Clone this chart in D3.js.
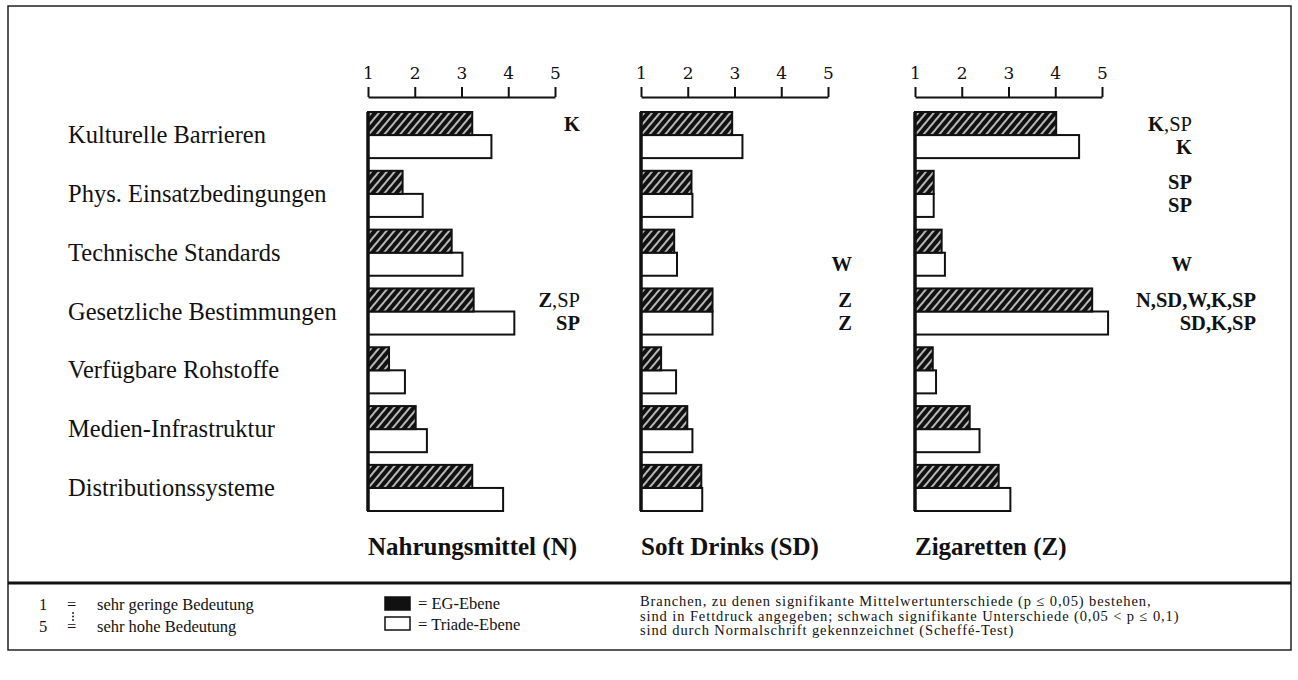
<!DOCTYPE html>
<html>
<head>
<meta charset="utf-8">
<script src="https://cdn.jsdelivr.net/npm/d3@7"></script>
<style>
  body { margin: 0; background: #fff; }
  text { font-family: "Liberation Serif", serif; fill: #111; }
</style>
</head>
<body>
<div id="content"></div>
<script>
// data
var categories = ["Kulturelle Barrieren", "Phys. Einsatzbedingungen", "Technische Standards",
  "Gesetzliche Bestimmungen", "Verfügbare Rohstoffe", "Medien-Infrastruktur", "Distributionssysteme"];
var levels = ["EG-Ebene", "Triade-Ebene"];
var tickValues = [1, 2, 3, 4, 5];
var panelTitles = ["Nahrungsmittel (N)", "Soft Drinks (SD)", "Zigaretten (Z)"];

var egN      = [3.23, 1.74, 2.79, 3.26, 1.45, 2.02, 3.23];
var triadeN  = [3.64, 2.17, 3.02, 4.13, 1.79, 2.26, 3.89];
var egSD     = [2.95, 2.08, 1.71, 2.53, 1.43, 1.99, 2.29];
var triadeSD = [3.17, 2.10, 1.77, 2.53, 1.75, 2.10, 2.31];
var egZ      = [4.02, 1.40, 1.57, 4.79, 1.38, 2.17, 2.79];
var triadeZ  = [4.51, 1.40, 1.64, 5.13, 1.45, 2.38, 3.04];

// significance notes: [category index, level index, bold part, normal part, wide]
var notesN  = [[0, 0, "K", ""], [3, 0, "Z", ",SP"], [3, 1, "SP", ""]];
var notesSD = [[2, 1, "W", ""], [3, 0, "Z", ""], [3, 1, "Z", ""]];
var notesZ  = [[0, 0, "K", ",SP"], [0, 1, "K", ""], [1, 0, "SP", ""], [1, 1, "SP", ""],
  [2, 1, "W", ""], [3, 0, "N,SD,W,K,SP", "", true], [3, 1, "SD,K,SP", "", true]];

var width = 1298, height = 680;

var svg = d3.select("#content")
    .append("svg")
    .attr("width", width)
    .attr("height", height);

// hatch pattern for EG bars
var pat = svg.append("defs").append("pattern")
    .attr("id", "hatch")
    .attr("patternUnits", "userSpaceOnUse")
    .attr("width", 6).attr("height", 6)
    .attr("patternTransform", "rotate(40)");
pat.append("rect").attr("width", 6).attr("height", 6).attr("fill", "#111");
pat.append("line").attr("x1", 3).attr("y1", 0).attr("x2", 3).attr("y2", 6)
    .attr("stroke", "#fff").attr("stroke-width", 1.4);

// frame
svg.append("rect")
    .attr("x", 8).attr("y", 6).attr("width", 1283).attr("height", 644)
    .attr("fill", "none").attr("stroke", "#222").attr("stroke-width", 1.5);
svg.append("line")
    .attr("x1", 8).attr("x2", 1291).attr("y1", 583).attr("y2", 583)
    .attr("stroke", "#111").attr("stroke-width", 3);

var yscale = d3.scaleBand()
    .domain(categories)
    .range([112, 511])
    .paddingInner(0.216)
    .paddingOuter(0);

var ysub = d3.scaleBand()
    .domain(levels)
    .range([0, yscale.bandwidth()]);

// category labels
svg.append("g").selectAll("text")
    .data(categories)
    .enter().append("text")
    .attr("x", 68)
    .attr("y", function(d) { return yscale(d) + yscale.bandwidth() / 2 + 8; })
    .style("font-size", "24.5px")
    .text(function(d) { return d; });

var panels = [
  { title: panelTitles[0], eg: egN, tri: triadeN, notes: notesN, x0: 368, noteX: 580, wideX: 580 },
  { title: panelTitles[1], eg: egSD, tri: triadeSD, notes: notesSD, x0: 641, noteX: 852, wideX: 852 },
  { title: panelTitles[2], eg: egZ, tri: triadeZ, notes: notesZ, x0: 915, noteX: 1192, wideX: 1256 }
];

panels.forEach(function(p) {
  var g = svg.append("g").attr("transform", "translate(" + p.x0 + ",0)");

  var xscale = d3.scaleLinear()
      .domain([1, 5])
      .range([0, 187]);

  var ax = g.append("g")
      .attr("transform", "translate(0,97)")
      .call(d3.axisTop(xscale).tickValues(tickValues).tickSize(10).tickSizeOuter(0).tickPadding(8).tickFormat(d3.format("d")));
  ax.select(".domain").attr("stroke", "#111").attr("stroke-width", 2);
  ax.selectAll(".tick line").attr("stroke", "#111").attr("stroke-width", 2);
  ax.selectAll(".tick text")
      .style("font-family", "'DejaVu Serif', serif")
      .style("font-size", "17px")
      .attr("fill", "#111");

  var rows = categories.map(function(c, i) { return { cat: c, eg: p.eg[i], tri: p.tri[i] }; });

  var rg = g.selectAll(".row")
      .data(rows)
      .enter().append("g")
      .attr("transform", function(d) { return "translate(0," + yscale(d.cat) + ")"; });

  rg.append("rect")
      .attr("x", 0)
      .attr("y", ysub(levels[1]))
      .attr("width", function(d) { return xscale(d.tri); })
      .attr("height", ysub.bandwidth())
      .attr("fill", "#fff").attr("stroke", "#111").attr("stroke-width", 2);

  rg.append("rect")
      .attr("x", 0)
      .attr("y", ysub(levels[0]))
      .attr("width", function(d) { return xscale(d.eg); })
      .attr("height", ysub.bandwidth())
      .attr("fill", "url(#hatch)").attr("stroke", "#111").attr("stroke-width", 2);

  // thick baseline
  g.append("line")
      .attr("x1", 0).attr("x2", 0)
      .attr("y1", yscale.range()[0]).attr("y2", yscale.range()[1])
      .attr("stroke", "#111").attr("stroke-width", 3.5);

  // notes
  p.notes.forEach(function(n) {
    var t = svg.append("text")
        .attr("x", n[4] ? p.wideX : p.noteX)
        .attr("y", yscale(categories[n[0]]) + ysub(levels[n[1]]) + ysub.bandwidth() / 2 + 7)
        .attr("text-anchor", "end")
        .style("font-size", "20.5px");
    t.append("tspan").style("font-weight", "bold").text(n[2]);
    if (n[3]) t.append("tspan").text(n[3]);
  });

  g.append("text")
      .attr("x", 0).attr("y", 555)
      .style("font-size", "25px").style("font-weight", "bold")
      .text(p.title);
});

// legend
var lg = svg.append("g").style("font-size", "16.5px");
lg.append("text").attr("x", 39).attr("y", 610).text("1");
lg.append("text").attr("x", 67).attr("y", 610).text("=");
lg.append("text").attr("x", 97).attr("y", 610).text("sehr geringe Bedeutung");
lg.selectAll(".dot")
    .data([0, 1, 2])
    .enter().append("circle")
    .attr("cx", 73)
    .attr("cy", function(d) { return 613 + d * 3.5; })
    .attr("r", 0.9)
    .attr("fill", "#111");
lg.append("text").attr("x", 39).attr("y", 632).text("5");
lg.append("text").attr("x", 67).attr("y", 632).text("=");
lg.append("text").attr("x", 97).attr("y", 632).text("sehr hohe Bedeutung");

lg.append("rect").attr("x", 385).attr("y", 597).attr("width", 25).attr("height", 13)
    .attr("fill", "#111").attr("stroke", "#111").attr("stroke-width", 1.5);
lg.append("rect").attr("x", 385).attr("y", 617).attr("width", 25).attr("height", 13)
    .attr("fill", "#fff").attr("stroke", "#111").attr("stroke-width", 1.5);
lg.append("text").attr("x", 418).attr("y", 609).text("= " + levels[0]);
lg.append("text").attr("x", 418).attr("y", 630).text("= " + levels[1]);

var note = ["Branchen, zu denen signifikante Mittelwertunterschiede (p ≤ 0,05) bestehen,",
  "sind in Fettdruck angegeben; schwach signifikante Unterschiede (0,05 < p ≤ 0,1)",
  "sind durch Normalschrift gekennzeichnet (Scheffé-Test)"];
lg.selectAll(".nl")
    .data(note)
    .enter().append("text")
    .attr("x", 640)
    .attr("y", function(d, i) { return 606 + i * 14.5; })
    .style("font-size", "14.5px")
    .style("letter-spacing", "0.9px")
    .text(function(d) { return d; });
</script>
</body>
</html>
